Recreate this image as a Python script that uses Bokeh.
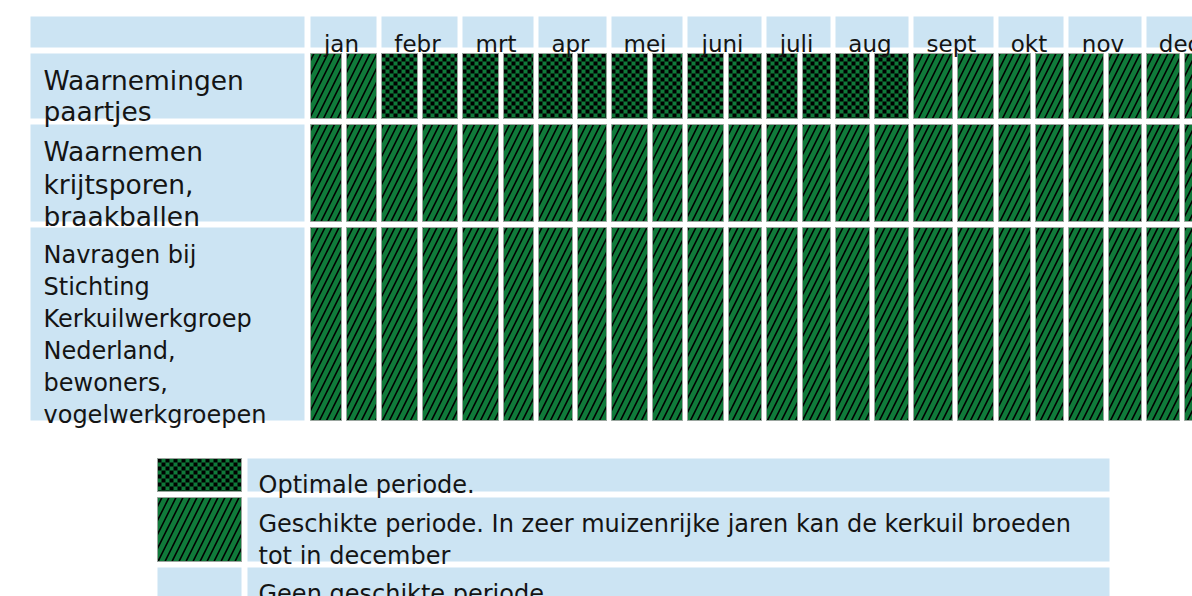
from bokeh.plotting import figure
from bokeh.models import ColumnDataSource, Range1d
from bokeh.embed import file_html
from bokeh.resources import INLINE
from bokeh.core.properties import value

# ---------------- data ----------------
months = ["jan", "febr", "mrt", "apr", "mei", "juni", "juli", "aug", "sept", "okt", "nov", "dec"]
activities = [
    "Waarnemingen\npaartjes",
    "Waarnemen\nkrijtsporen,\nbraakballen",
    "Navragen bij\nStichting\nKerkuilwerkgroep\nNederland,\nbewoners,\nvogelwerkgroepen",
]
# status per half month (2 per month): O = optimaal, G = geschikt, - = geen
status_paartjes = ["G", "G", "O", "O", "O", "O", "O", "O", "O", "O", "O", "O",
                   "O", "O", "O", "O", "G", "G", "G", "G", "G", "G", "G", "G"]
status_sporen = ["G", "G", "G", "G", "G", "G", "G", "G", "G", "G", "G", "G",
                 "G", "G", "G", "G", "G", "G", "G", "G", "G", "G", "G", "G"]
status_navragen = ["G", "G", "G", "G", "G", "G", "G", "G", "G", "G", "G", "G",
                   "G", "G", "G", "G", "G", "G", "G", "G", "G", "G", "G", "G"]
statuses = [status_paartjes, status_sporen, status_navragen]

legend_status = ["O", "G", "-"]
legend_labels = [
    "Optimale periode.",
    "Geschikte periode. In zeer muizenrijke jaren kan de kerkuil broeden\ntot in december",
    "Geen geschikte periode",
]

# ---------------- layout / style (page pixels) ----------------
W, H = 1192, 596
LIGHT = "#cce4f3"
GREEN = "#107a3a"
EDGE = "#9aa59e"
TXT = "#141414"
FONT = "DejaVu Sans"
row_font = ["26.5px", "26.5px", "24px"]
row_line = [30.5, 32.5, 32]
LEG_FS = "24px"
LEG_LINE = 32
MFS = "23px"
BASE = 27
SQ = 4  # checker square size

label_x0, label_x1 = 30, 304
half_left = [310, 346, 381, 422, 462, 503, 538, 577, 611, 652, 687, 728,
             766, 802, 835, 874, 913, 957, 998, 1035, 1068, 1108, 1146, 1184]
grid_end = 1216
gap = 5
head_top, head_bot = 16, 47
row_top = [53, 124, 227]
row_bot = [118, 221, 420]

leg_sw_x0, leg_sw_x1 = 157, 241
leg_tx_x0, leg_tx_x1 = 247, 1109
leg_top = [458, 497, 567]
leg_bot = [491, 561, 604]

half_right = [half_left[i + 1] - gap for i in range(len(half_left) - 1)] + [grid_end]

p = figure(width=W, height=H, output_backend="svg", toolbar_location=None,
           x_range=Range1d(0, W), y_range=Range1d(H, 0),
           min_border=0, outline_line_color=None, background_fill_color="white",
           border_fill_color="white")
p.xaxis.visible = False
p.yaxis.visible = False
p.grid.visible = False

# light-blue cells (header + labels + legend texts)
bl = dict(left=[], right=[], top=[], bottom=[])
def add_to(d, l, r, t, b):
    d["left"].append(l); d["right"].append(r); d["top"].append(t); d["bottom"].append(b)

add_to(bl, label_x0, label_x1, head_top, head_bot)
for m in range(len(months)):
    add_to(bl, half_left[2 * m], half_right[2 * m + 1], head_top, head_bot)
for r in range(len(activities)):
    add_to(bl, label_x0, label_x1, row_top[r], row_bot[r])
for i in range(len(legend_labels)):
    add_to(bl, leg_tx_x0, leg_tx_x1, leg_top[i], leg_bot[i])

# status cells
cells = {s: dict(left=[], right=[], top=[], bottom=[]) for s in ("O", "G", "-")}
for r, st in enumerate(statuses):
    for k, s in enumerate(st):
        add_to(cells[s], half_left[k], half_right[k], row_top[r], row_bot[r])
for i, s in enumerate(legend_status):
    add_to(cells[s], leg_sw_x0, leg_sw_x1, leg_top[i], leg_bot[i])

for k, v in cells["-"].items():
    bl[k].extend(v)

p.quad(source=ColumnDataSource(bl), left="left", right="right", top="top", bottom="bottom",
       fill_color=LIGHT, line_color=None)

# geschikt: green with diagonal hatch
p.quad(source=ColumnDataSource(cells["G"]), left="left", right="right", top="top", bottom="bottom",
       fill_color=GREEN, line_color=EDGE, line_width=1,
       hatch_pattern="/", hatch_color="black", hatch_scale=14, hatch_weight=1.6)

# optimaal: green with checkerboard texture
opt = cells["O"]
p.quad(source=ColumnDataSource(opt), left="left", right="right", top="top", bottom="bottom",
       fill_color=GREEN, line_color=None)
ck = dict(left=[], right=[], top=[], bottom=[])
for l, r, t, b in zip(opt["left"], opt["right"], opt["top"], opt["bottom"]):
    y, iy = t, 0
    while y < b:
        x = l + (iy % 2) * SQ
        while x < r:
            add_to(ck, x, min(x + SQ, r), y, min(y + SQ, b))
            x += 2 * SQ
        y += SQ
        iy += 1
p.quad(source=ColumnDataSource(ck), left="left", right="right", top="top", bottom="bottom",
       fill_color="black", line_color=None)
p.quad(source=ColumnDataSource(opt), left="left", right="right", top="top", bottom="bottom",
       fill_color=None, line_color=EDGE, line_width=1)

# row label texts
for r, lab in enumerate(activities):
    tx = dict(x=[], y=[], text=[])
    for j, line in enumerate(lab.split("\n")):
        tx["x"].append(label_x0 + 13)
        tx["y"].append(row_top[r] + BASE + j * row_line[r])
        tx["text"].append(line)
    p.text(source=ColumnDataSource(tx), x="x", y="y", text="text", text_font=value(FONT),
           text_font_size=row_font[r], text_color=TXT, text_baseline="alphabetic", text_align="left")

# legend texts
lx = dict(x=[], y=[], text=[])
for i, lab in enumerate(legend_labels):
    for j, line in enumerate(lab.split("\n")):
        lx["x"].append(leg_tx_x0 + 11)
        lx["y"].append(leg_top[i] + BASE - 1 + j * LEG_LINE)
        lx["text"].append(line)
p.text(source=ColumnDataSource(lx), x="x", y="y", text="text", text_font=value(FONT),
       text_font_size=LEG_FS, text_color=TXT, text_baseline="alphabetic", text_align="left")

# month header texts
mx = dict(x=[], y=[], text=[])
for m, name in enumerate(months):
    mx["x"].append((half_left[2 * m] + half_right[2 * m + 1]) / 2 - 2)
    mx["y"].append(head_top + BASE)
    mx["text"].append(name)
p.text(source=ColumnDataSource(mx), x="x", y="y", text="text", text_font=value(FONT),
       text_font_size=MFS, text_color=TXT, text_baseline="alphabetic", text_align="center")

open("out.html", "w").write(file_html(p, INLINE))
